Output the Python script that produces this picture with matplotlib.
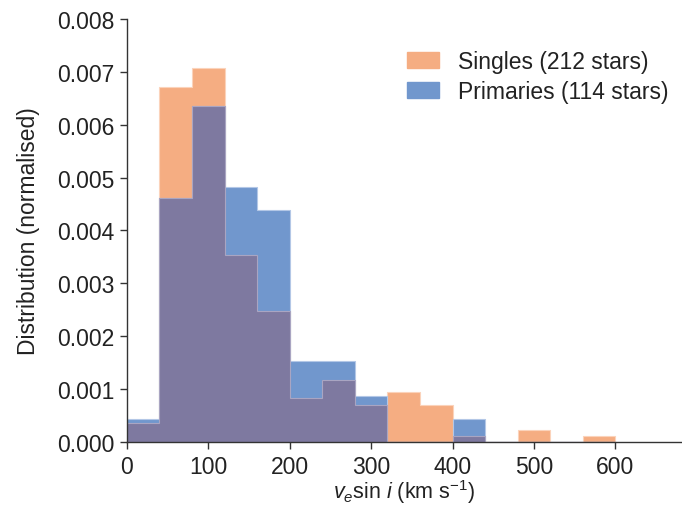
"""Histograma normalizado de v sin i: estrellas simples frente a primarias."""

import matplotlib
matplotlib.use("Agg")
import matplotlib.pyplot as plt
import numpy as np
from matplotlib.patches import Patch

plt.rcParams["font.family"] = ["Liberation Sans", "DejaVu Sans"]
plt.rcParams["mathtext.fontset"] = "custom"
plt.rcParams["mathtext.rm"] = "Liberation Sans"
plt.rcParams["mathtext.it"] = "Liberation Sans:italic"

# Bordes de los bins (km/s) y cuentas.
bordes = np.arange(0, 640, 40)
n_simples = 212
n_primarias = 114
cuentas_simples = [3, 57, 60, 30, 21, 7, 10, 6, 8, 6, 1, 0, 2, 0, 1]
cuentas_primarias = [2, 21, 29, 22, 20, 7, 7, 4, 0, 0, 2, 0, 0, 0, 0]

ancho = np.diff(bordes)
dens_simples = np.array(cuentas_simples) / (n_simples * ancho)
dens_primarias = np.array(cuentas_primarias) / (n_primarias * ancho)
dens_comun = np.minimum(dens_simples, dens_primarias)

COLOR_S = "#f5ad82"
COLOR_P = "#7197cd"
COLOR_C = "#7e79a0"
TXT = "#222222"
FS = 16.5

fig = plt.figure(figsize=(6.82, 5.06), dpi=100)
ax = fig.add_axes([0.186, 0.1245, 0.812, 0.836])

for dens, cara, borde in [(dens_simples, COLOR_S, "#fbd3bb"),
                          (dens_primarias, COLOR_P, "#b3c7e6"),
                          (dens_comun, COLOR_C, "#a9a5c2")]:
    ax.hist(bordes[:-1], bins=bordes, weights=dens, histtype="stepfilled",
            facecolor=cara, edgecolor=borde, linewidth=0.8)

ax.set_xlim(0, 680)
ax.set_ylim(0, 0.008)
ax.set_xticks(np.arange(0, 700, 100))
ax.set_yticks(np.arange(0, 0.0081, 0.001))
ax.yaxis.set_major_formatter(matplotlib.ticker.FormatStrFormatter("%.3f"))

for lado in ("top", "right"):
    ax.spines[lado].set_visible(False)
for lado in ("left", "bottom"):
    ax.spines[lado].set_color("#333333")
    ax.spines[lado].set_linewidth(1.0)
ax.tick_params(labelsize=FS, length=5, width=1, color="#333333",
               labelcolor=TXT, pad=4)

ax.set_xlabel(r"$v_e$sin $i$ (km s$^{-1}$)", fontsize=15.5, labelpad=0,
              color=TXT)
ax.set_ylabel("Distribution (normalised)", fontsize=FS, labelpad=12,
              color=TXT)

handles = [Patch(color=COLOR_S), Patch(color=COLOR_P)]
ax.legend(handles, ["Singles (212 stars)", "Primaries (114 stars)"],
          loc="upper right", bbox_to_anchor=(1.015, 0.975), frameon=False,
          fontsize=FS, handlelength=1.4, handleheight=0.7,
          handletextpad=0.8, labelspacing=0.3, labelcolor=TXT)

fig.savefig("out.png", dpi=100)
plt.close(fig)
